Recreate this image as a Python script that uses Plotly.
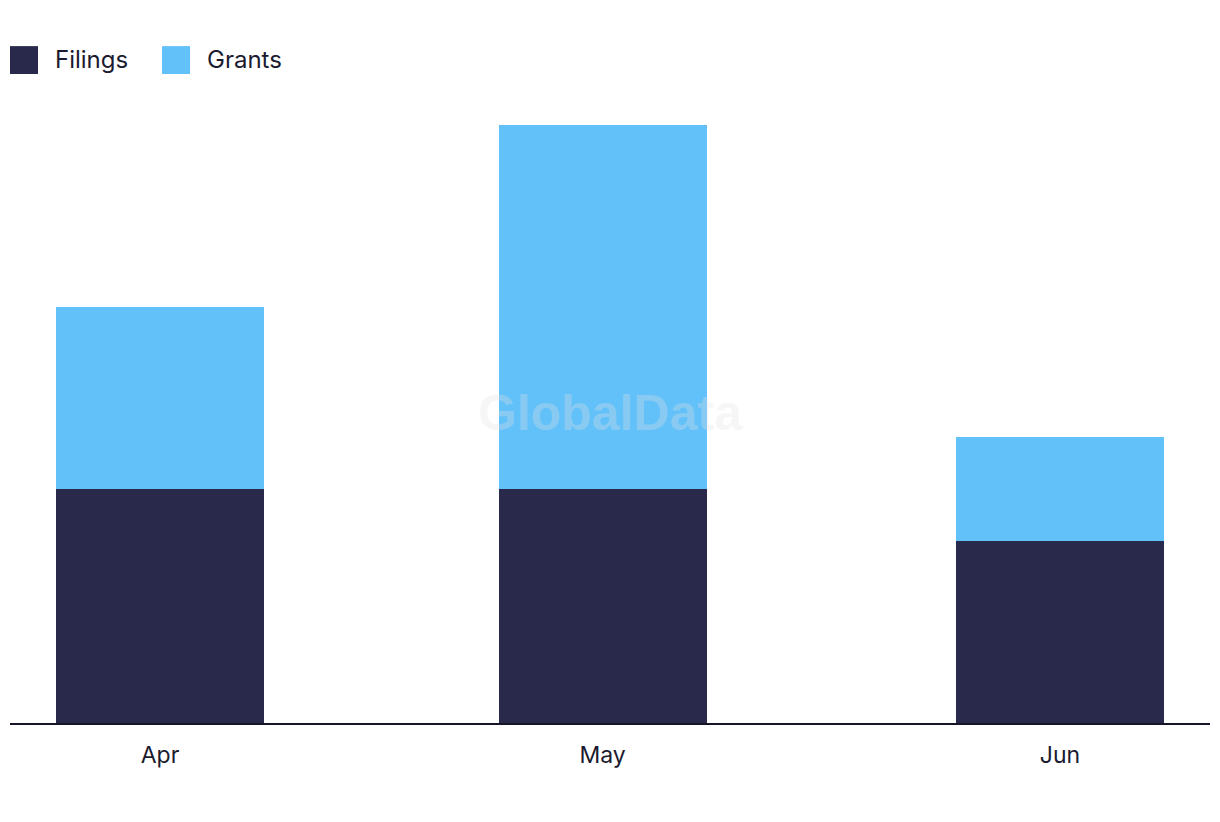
import plotly.graph_objects as go

months = ["2024-04-01", "2024-05-01", "2024-06-01"]
month_labels = ["Apr", "May", "Jun"]
filings = [9, 9, 7]
grants = [7, 14, 4]

series_names = ["Filings", "Grants"]
colors = ["#29294B", "#62C1F9"]

DAY_MS = 86400000
bar_width = 14.1 * DAY_MS

fig = go.Figure()
for name, vals, col in zip(series_names, [filings, grants], colors):
    fig.add_trace(go.Bar(x=months, y=vals, name=name, marker_color=col,
                         marker_line_width=0, width=bar_width, showlegend=False))

# custom legend (large square swatches)
leg_x = [0.0, 0.1267]
sw = 28 / 1200
for i, (name, col) in enumerate(zip(series_names, colors)):
    fig.add_shape(type="rect", xref="paper", yref="paper",
                  x0=leg_x[i], x1=leg_x[i] + sw, y0=1.0417, y1=1.0865,
                  fillcolor=col, line_width=0)
    fig.add_annotation(xref="paper", yref="paper", x=leg_x[i] + sw + 15 / 1200, y=1.0655,
                       text=name, showarrow=False, xanchor="left", yanchor="middle",
                       font=dict(size=24, color="#1b1b2f", family="Inter"))

fig.add_annotation(xref="paper", yref="paper", x=0.5, y=0.498, text="<b>GlobalData</b>",
                   showarrow=False, font=dict(size=50, family="Liberation Sans",
                                              color="rgba(225,225,225,0.3)"))

fig.update_layout(
    barmode="stack",
    width=1220, height=822,
    margin=dict(l=10, r=10, t=100, b=99),
    paper_bgcolor="white", plot_bgcolor="white",
    font=dict(family="Inter", color="#1b1b2f"),
    xaxis=dict(type="date", range=["2024-03-21 20:00", "2024-06-11 04:00"],
               tickvals=months, ticktext=month_labels, showgrid=False, zeroline=False,
               showline=True, linecolor="#16162b", linewidth=2,
               ticks="outside", ticklen=10, tickcolor="rgba(0,0,0,0)",
               tickfont=dict(size=23, color="#1b1b2f", family="Inter")),
    yaxis=dict(range=[0, 23.96], visible=False, showgrid=False, zeroline=False),
)

fig.write_html("out.html")
